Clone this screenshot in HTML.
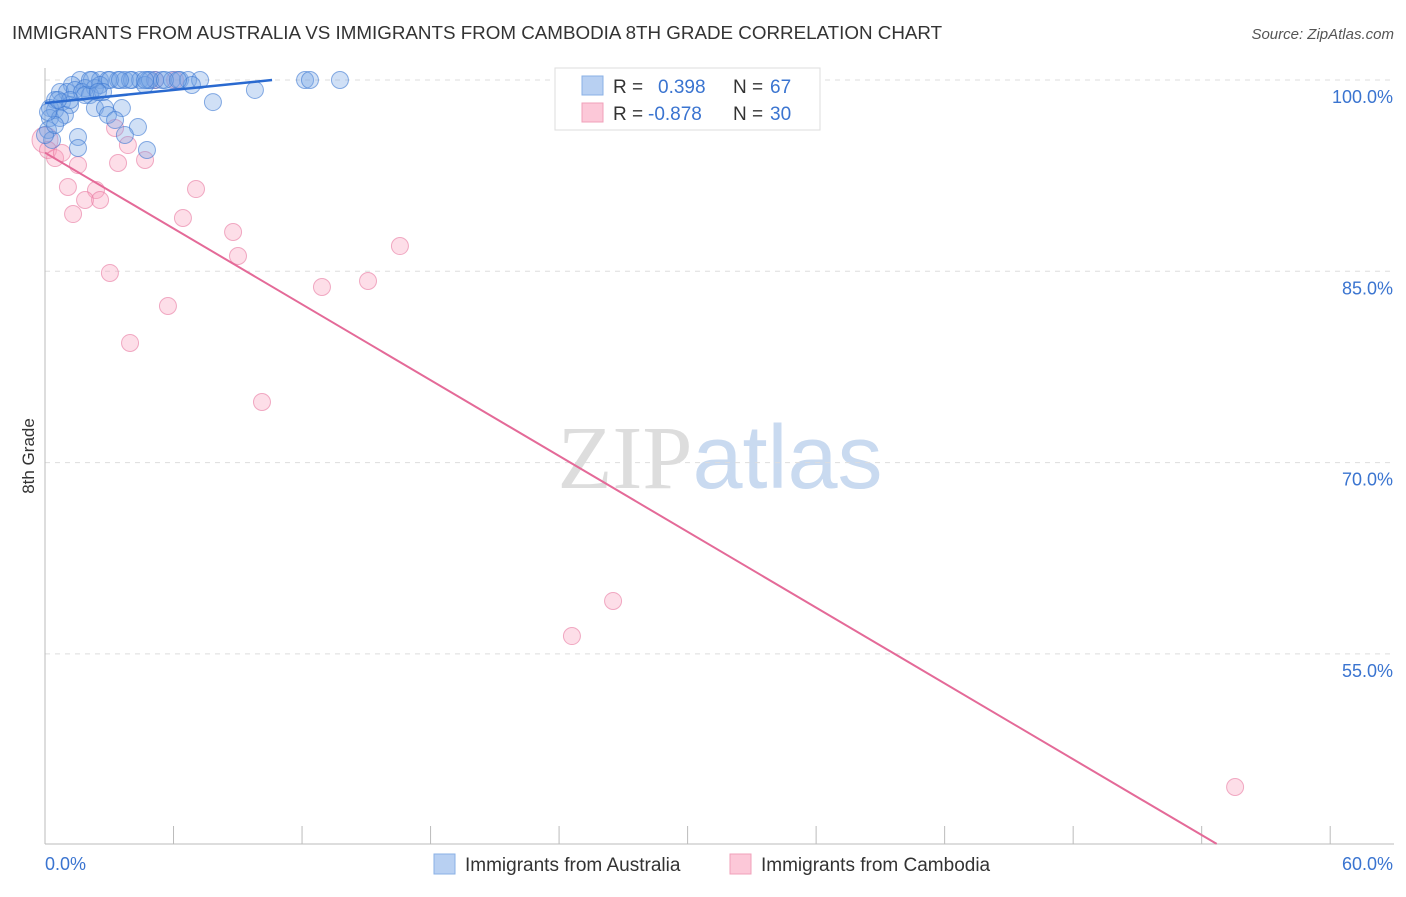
<!DOCTYPE html>
<html><head><meta charset="utf-8"><style>
body{margin:0;background:#fff;font-family:"Liberation Sans",sans-serif;}
svg text{font-family:"Liberation Sans",sans-serif;}
</style></head><body>
<svg id="chart" width="1406" height="892" xmlns="http://www.w3.org/2000/svg">
<text x="12" y="39" font-size="18.8" fill="#333">IMMIGRANTS FROM AUSTRALIA VS IMMIGRANTS FROM CAMBODIA 8TH GRADE CORRELATION CHART</text>
<text x="1394" y="39" font-size="15" fill="#555" text-anchor="end" font-style="italic">Source: ZipAtlas.com</text>
<text x="720" y="488" font-size="90" text-anchor="middle"><tspan fill="#ddd" font-family="Liberation Serif">ZIP</tspan><tspan fill="#c9daf0">atlas</tspan></text>
<text transform="translate(34,456) rotate(-90)" font-size="17" fill="#333" text-anchor="middle">8th Grade</text>
<g id="grid"></g><g id="axes"></g><g id="marks"></g>
<g>
<rect x="555" y="68" width="265" height="62" fill="#fff" stroke="#ddd"/>
<rect x="582" y="76" width="21" height="19" fill="#b8d0f2" stroke="#8ab0e6"/>
<rect x="582" y="103" width="21" height="19" fill="#fcc8d8" stroke="#f0a0ba"/>
<text x="613" y="93" font-size="19" fill="#333">R =</text><text x="658" y="93" font-size="19" fill="#3a74d0">0.398</text>
<text x="733" y="93" font-size="19" fill="#333">N =</text><text x="770" y="93" font-size="19" fill="#3a74d0">67</text>
<text x="613" y="120" font-size="19" fill="#333">R =</text><text x="648" y="120" font-size="19" fill="#3a74d0">-0.878</text>
<text x="733" y="120" font-size="19" fill="#333">N =</text><text x="770" y="120" font-size="19" fill="#3a74d0">30</text>
</g>
<g>
<rect x="434" y="854" width="21" height="20" fill="#b8d0f2" stroke="#8ab0e6"/>
<text x="465" y="871" font-size="19" fill="#333">Immigrants from Australia</text>
<rect x="730" y="854" width="21" height="20" fill="#fcc8d8" stroke="#f0a0ba"/>
<text x="761" y="871" font-size="19" fill="#333">Immigrants from Cambodia</text>
</g>
</svg>
<script>
const yTicks=[100,85,70,55];
const xTickLabels=["0.0%","60.0%"];
const auPx=[[80,80],[92,80],[100,80],[108,80],[118,80],[125,80],[132,80],[140,80],[148,80],[155,80],[162,80],[172,80],[180,80],[188,80],[200,80],[305,80],[310,80],[340,80],[145,85],[192,85],[72,85],[85,88],[95,88],[100,85],[60,92],[67,92],[75,90],[82,92],[90,95],[55,100],[62,102],[70,105],[50,108],[55,110],[65,115],[95,108],[105,108],[122,108],[213,102],[255,90],[50,118],[60,118],[108,115],[115,120],[138,127],[78,137],[125,135],[48,130],[52,140],[78,148],[147,150],[45,135],[55,125],[70,100],[85,95],[110,80],[130,80],[150,80],[165,80],[178,80],[90,80],[103,92],[48,112],[58,100],[98,92],[120,80],[145,80]];
const kmPx=[[48,150],[55,158],[62,153],[78,165],[68,187],[96,190],[73,214],[85,200],[100,200],[110,273],[128,145],[118,163],[145,160],[115,128],[155,80],[175,80],[196,189],[183,218],[168,306],[130,343],[233,232],[238,256],[262,402],[322,287],[368,281],[400,246],[572,636],[613,601],[1235,787]];
// data values (x %, y %)
const auX=auPx.map(p=>+((p[0]-45)/21.42).toFixed(2)), auY=auPx.map(p=>+(100-(p[1]-80)/12.753).toFixed(2));
const kmX=[0].concat(kmPx.map(p=>+((p[0]-45)/21.42).toFixed(2))), kmY=[95.3].concat(kmPx.map(p=>+(100-(p[1]-80)/12.753).toFixed(2)));
const auTrend=[[0,98.2],[10.6,100]];
const kmTrend=[[0,94.3],[54.7,40.1]];
const X=v=>45+v*21.42, Y=v=>80+(100-v)*12.753;
const NS="http://www.w3.org/2000/svg";
function mk(t,a,p){const e=document.createElementNS(NS,t);for(const k in a)e.setAttribute(k,a[k]);p.appendChild(e);return e;}
const grid=document.getElementById('grid'),axes=document.getElementById('axes'),marks=document.getElementById('marks');
yTicks.forEach(v=>{
 const l=mk('line',{x1:45,x2:1394,y1:Y(v),y2:Y(v),stroke:'#ddd','stroke-dasharray':'5,5'},grid);
 
 
 const t=mk('text',{x:1393,y:Y(v)+23,'font-size':18,fill:'#3a74d0','text-anchor':'end'},axes);
 t.textContent=v.toFixed(1)+'%';
 
 
});
const ax=mk('line',{x1:45,x2:45,y1:68,y2:844,stroke:'#bbb'},axes);


const bx=mk('line',{x1:45,x2:1394,y1:844,y2:844,stroke:'#bbb'},axes);


for(let i=0;i<=10;i++){const tk=mk('line',{x1:X(i*6),x2:X(i*6),y1:826,y2:844,stroke:'#bbb'},axes);
 
 }
[[0,'start'],[60,'end']].forEach((d,i)=>{const t=mk('text',{x:d[0]?1393:45,y:870,'font-size':18,fill:'#3a74d0','text-anchor':d[1]},axes);t.textContent=xTickLabels[i];
 
 });
kmX.forEach((x,i)=>{const c=mk('circle',{cx:X(x),cy:Y(kmY[i]),r:i==0?13:8.5,fill:'rgba(248,160,190,0.35)',stroke:'rgba(232,120,160,0.6)'},marks);
 
 });
auX.forEach((x,i)=>{const c=mk('circle',{cx:X(x),cy:Y(auY[i]),r:8.5,fill:'rgba(120,165,230,0.35)',stroke:'rgba(60,120,210,0.6)'},marks);
 
 });
const t1=mk('line',{x1:X(auTrend[0][0]),y1:Y(auTrend[0][1]),x2:X(auTrend[1][0]),y2:Y(auTrend[1][1]),stroke:'#2a6ad0','stroke-width':2.5},marks);


const t2=mk('line',{x1:X(kmTrend[0][0]),y1:Y(kmTrend[0][1]),x2:X(kmTrend[1][0]),y2:Y(kmTrend[1][1]),stroke:'#e46a98','stroke-width':2},marks);


</script>
</body></html>
